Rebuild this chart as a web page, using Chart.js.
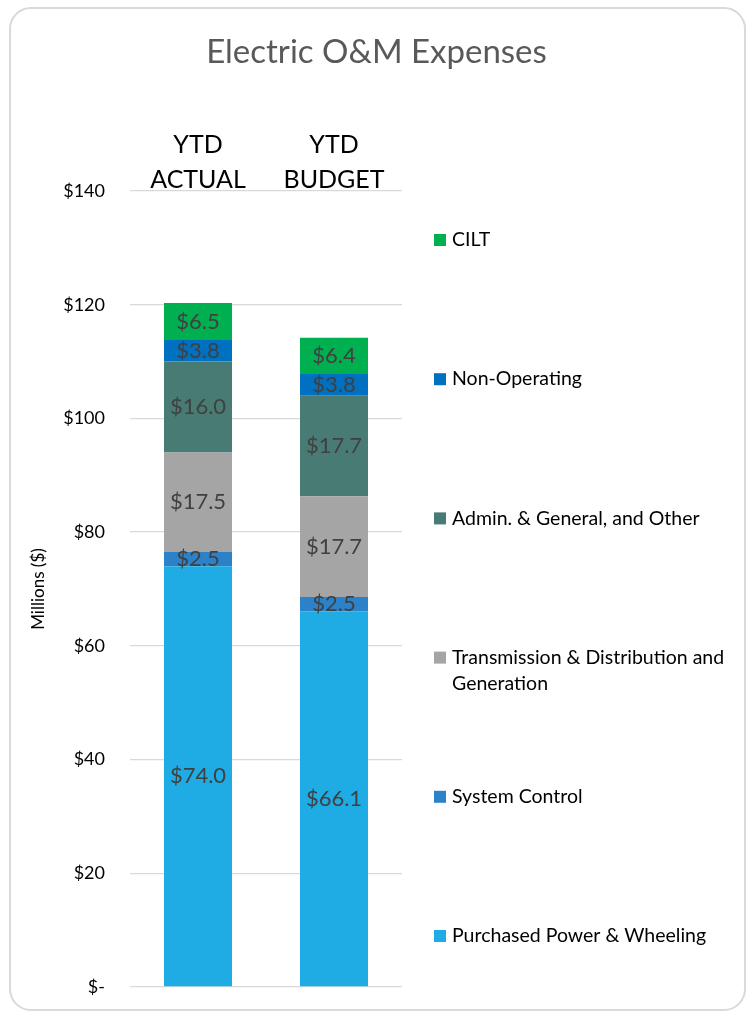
<!DOCTYPE html>
<html>
<head>
<meta charset="utf-8">
<script src="https://cdn.jsdelivr.net/npm/chart.js@4/dist/chart.umd.min.js"></script>
<style>
  body { margin: 0; background: #fff; }
  #wrap { position: relative; width: 753px; height: 1012px; }
  #frame {
    position: absolute; left: 9px; top: 7px; width: 733px; height: 1000px;
    border: 2px solid #d9d9d9; border-radius: 22px; pointer-events: none;
  }
</style>
</head>
<body>
<div id="wrap">
  <canvas id="omChart" width="753" height="1012"></canvas>
  <div id="frame"></div>
</div>
<script>
// categories and series (millions of dollars), stacked bottom to top
const categories = [['YTD', 'ACTUAL'], ['YTD', 'BUDGET']];
const purchasedPower = [74.0, 66.1];
const systemControl = [2.5, 2.5];
const transDist = [17.5, 17.7];
const adminGeneral = [16.0, 17.7];
const nonOperating = [3.8, 3.8];
const cilt = [6.5, 6.4];
const yTickLabels = ['$-', '$20', '$40', '$60', '$80', '$100', '$120', '$140'];

const FONT = 'Lato, "Open Sans", sans-serif';

const series = [
  { label: ['Purchased Power & Wheeling'], data: purchasedPower, color: '#1fabe3' },
  { label: ['System Control'], data: systemControl, color: '#2b82c9' },
  { label: ['Transmission & Distribution and', 'Generation'], data: transDist, color: '#a5a5a5' },
  { label: ['Admin. & General, and Other'], data: adminGeneral, color: '#487b74' },
  { label: ['Non-Operating'], data: nonOperating, color: '#0070c0' },
  { label: ['CILT'], data: cilt, color: '#00b050' }
];

// value labels centred in each stacked segment
const segmentLabels = {
  id: 'segmentLabels',
  afterDatasetsDraw(chart) {
    const ctx = chart.ctx;
    ctx.save();
    ctx.font = '22px ' + FONT;
    ctx.fillStyle = '#404040';
    ctx.textAlign = 'center';
    ctx.textBaseline = 'middle';
    chart.data.datasets.forEach((ds, i) => {
      chart.getDatasetMeta(i).data.forEach((bar, j) => {
        const p = bar.getCenterPoint();
        ctx.fillText('$' + ds.data[j].toFixed(1), p.x, p.y);
      });
    });
    ctx.restore();
  }
};

// legend spread down the right-hand side, top item = top of stack
const sideLegend = {
  id: 'sideLegend',
  afterDraw(chart) {
    const { ctx, chartArea } = chart;
    const sets = chart.data.datasets.slice().reverse();
    const first = chartArea.top + 49;
    const step = (chartArea.bottom - chartArea.top - 100) / (sets.length - 1);
    ctx.save();
    ctx.font = '19.5px ' + FONT;
    ctx.textBaseline = 'middle';
    ctx.textAlign = 'left';
    sets.forEach((ds, i) => {
      const y = first + i * step;
      ctx.fillStyle = ds.backgroundColor;
      ctx.fillRect(434, y - 6, 12, 12);
      ctx.fillStyle = '#000';
      ds.label.forEach((t, k) => ctx.fillText(t, 452, y + k * 26));
    });
    ctx.restore();
  }
};

new Chart(document.getElementById('omChart'), {
  type: 'bar',
  data: {
    labels: categories,
    datasets: series.map(s => ({
      label: s.label,
      data: s.data,
      backgroundColor: s.color,
      borderWidth: 0,
      barPercentage: 0.5,
      categoryPercentage: 1
    }))
  },
  options: {
    responsive: false,
    animation: false,
    layout: { padding: { top: 7, left: 0, right: 0, bottom: 25 } },
    plugins: {
      legend: { display: false },
      tooltip: { enabled: false },
      title: {
        display: true,
        text: 'Electric O&M Expenses',
        color: '#595959',
        font: { family: FONT, size: 33, weight: 'normal' },
        padding: { top: 26, bottom: 10 }
      }
    },
    scales: {
      x: {
        stacked: true,
        position: 'top',
        grid: { display: false, drawTicks: false },
        border: { display: false },
        ticks: {
          color: '#000',
          padding: -6,
          maxRotation: 0,
          font: { family: FONT, size: 25, lineHeight: 1.4 }
        },
        afterFit(scale) { scale.height = 108.4; }
      },
      y: {
        stacked: true,
        min: 0,
        max: 140,
        grid: { color: '#d9d9d9', lineWidth: 1.3, drawTicks: false },
        border: { display: false },
        ticks: {
          stepSize: 20,
          padding: 25,
          color: '#000',
          font: { family: FONT, size: 18 },
          callback: (v, i) => yTickLabels[i]
        },
        title: {
          display: true,
          text: 'Millions ($)',
          color: '#000',
          font: { family: FONT, size: 17 },
          padding: { top: 28, bottom: 0 }
        },
        afterFit(scale) {
          scale.width = 130;
          scale.paddingTop = 11;
          scale.paddingBottom = 11;
        }
      },
      // empty right-hand strip that holds the legend
      legendSpace: {
        type: 'linear',
        position: 'right',
        grid: { display: false, drawTicks: false },
        border: { display: false },
        ticks: { display: false },
        afterFit(scale) { scale.width = 351; }
      }
    }
  },
  plugins: [segmentLabels, sideLegend]
});
</script>
</body>
</html>
